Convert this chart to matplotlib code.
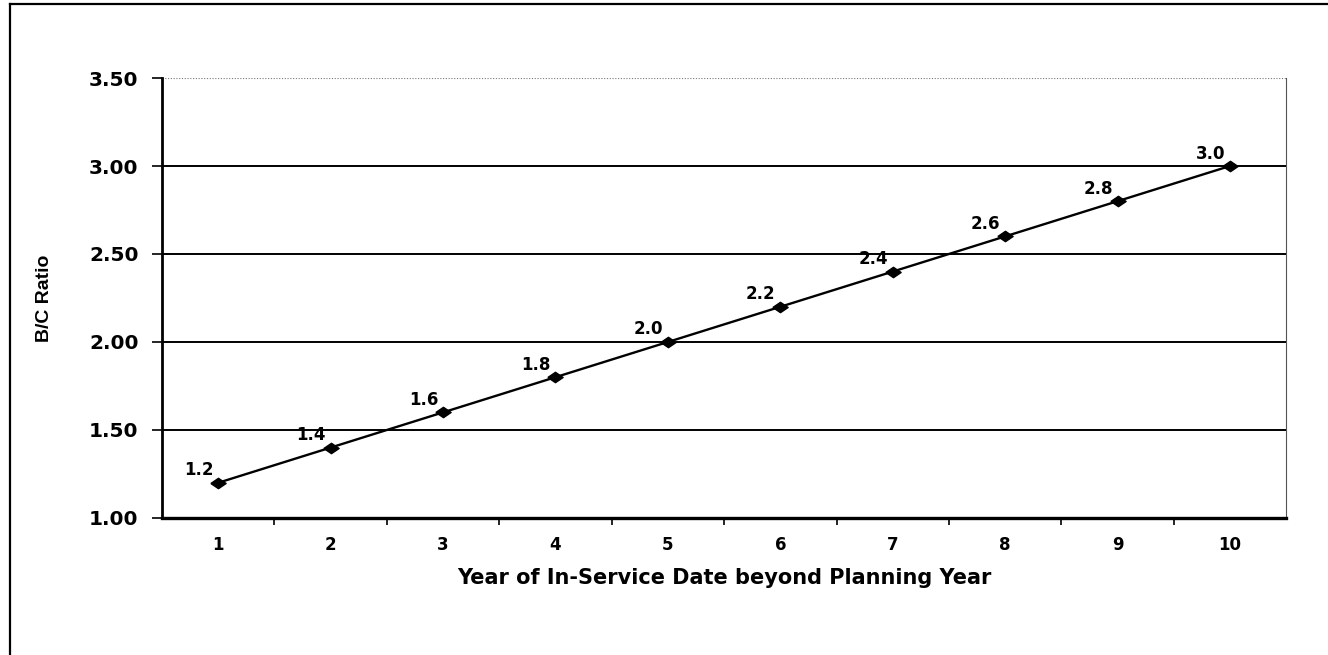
import numpy as np
import matplotlib
matplotlib.use("Agg")
import matplotlib.pyplot as plt
from matplotlib.lines import Line2D

years = [1, 2, 3, 4, 5, 6, 7, 8, 9, 10]
bc_ratio = [1.2, 1.4, 1.6, 1.8, 2.0, 2.2, 2.4, 2.6, 2.8, 3.0]
point_labels = ["1.2", "1.4", "1.6", "1.8", "2.0", "2.2", "2.4", "2.6", "2.8", "3.0"]
y_ticks = [1.00, 1.50, 2.00, 2.50, 3.00, 3.50]

plt.rcParams['font.family'] = ['DejaVu Sans']
plt.rcParams['font.weight'] = 'bold'

fig = plt.figure(figsize=(13.28, 6.55), dpi=100)
ax = fig.add_axes([0.122, 0.2092, 0.8465, 0.6717])

# squashed diamond marker like the scanned chart
diamond = [(-1, 0), (0, 0.68), (1, 0), (0, -0.68), (-1, 0)]

ax.set_xlim(0.5, 10.5)
ax.set_ylim(1.0, 3.5)

for yv in y_ticks[1:-1]:
    ax.axhline(yv, color='black', lw=1.4, zorder=1)
ax.axhline(3.5, color='#777777', lw=0.8, ls=(0, (1, 1.5)), zorder=1)

ax.plot(years, bc_ratio, color='black', lw=1.7, marker=diamond, ms=11,
        markerfacecolor='black', markeredgecolor='black', zorder=3)

for xv, yv, lab in zip(years, bc_ratio, point_labels):
    ax.annotate(lab, (xv, yv), xytext=(-14, 9), textcoords='offset points',
                ha='center', va='center', fontsize=12, fontweight='bold')

ax.set_yticks(y_ticks)
ax.set_yticklabels(["%.2f" % v for v in y_ticks], fontsize=14.5, fontweight='bold')
ax.set_xticks(years)
ax.set_xticklabels([str(v) for v in years], fontsize=12, fontweight='bold')
ax.set_xticks(np.arange(1.5, 10.5, 1.0), minor=True)
ax.tick_params(axis='x', which='major', length=0, pad=13)
ax.tick_params(axis='x', which='minor', length=5, width=1.2, direction='out')
ax.tick_params(axis='y', which='major', length=7, width=1.2, direction='out', pad=10)

ax.spines['top'].set_visible(False)
ax.spines['right'].set_color('#555555')
ax.spines['right'].set_linewidth(0.8)
ax.spines['right'].set_linestyle((0, (1, 1)))
ax.spines['left'].set_linewidth(2.0)
ax.spines['bottom'].set_linewidth(2.4)

ax.set_xlabel("Year of In-Service Date beyond Planning Year", fontsize=15,
              fontweight='bold', labelpad=10)
ax.set_ylabel("B/C Ratio", fontsize=14, fontweight='bold',
              family=['Liberation Sans', 'DejaVu Sans'])
ax.yaxis.set_label_coords(-0.097, 0.5)

# outer scanned frame
fig.add_artist(Line2D([10 / 1328, 10 / 1328], [0, 1 - 4 / 655], transform=fig.transFigure,
                      color='black', lw=1.6))
fig.add_artist(Line2D([10 / 1328, 1], [1 - 4 / 655, 1 - 4 / 655], transform=fig.transFigure,
                      color='black', lw=1.6))

fig.savefig("out.png", dpi=100)
